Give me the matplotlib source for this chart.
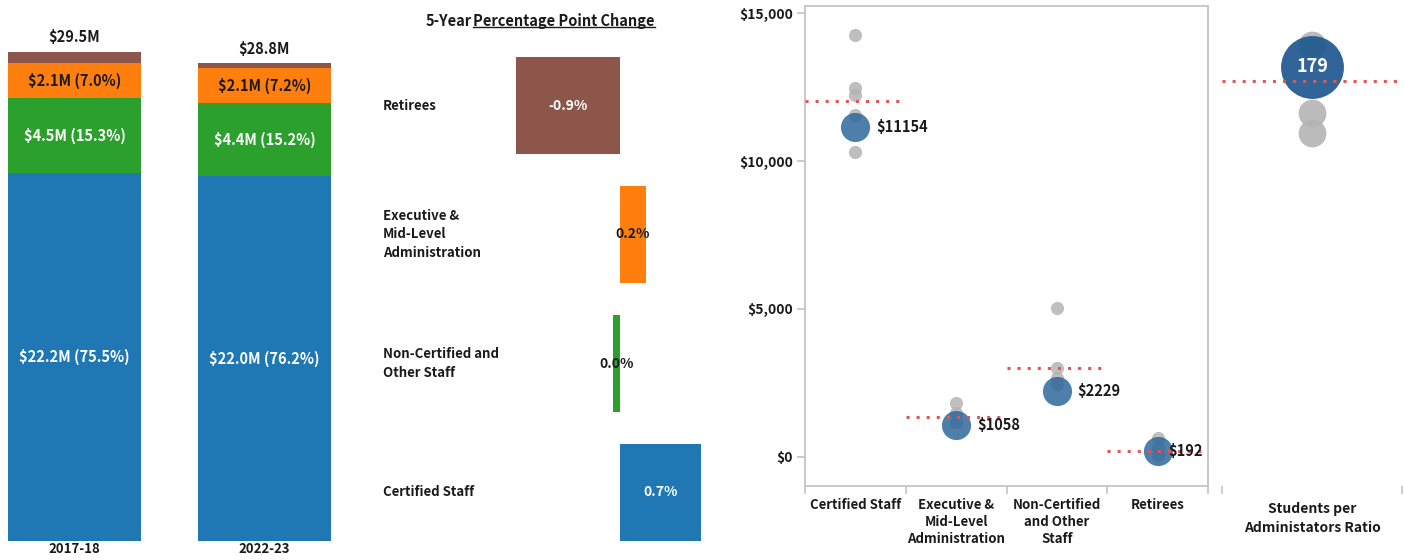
import matplotlib
matplotlib.use('Agg')
import matplotlib.pyplot as plt
import matplotlib.transforms as mtransforms
from matplotlib.lines import Line2D

FONT = ['Noto Sans CJK SC', 'DejaVu Sans']
plt.rcParams['font.family'] = FONT
plt.rcParams['font.weight'] = 'bold'

# ---------------- data ----------------
years = ['2017-18', '2022-23']
totals = [29.5, 28.8]
stack_names = ['Certified Staff', 'Non-Certified and Other Staff',
               'Executive & Mid-Level Administration', 'Retirees']
spend_2017 = [22.2, 4.5, 2.1, 0.7]
spend_2022 = [22.0, 4.4, 2.1, 0.3]
share_2017 = [75.5, 15.3, 7.0, 2.2]
share_2022 = [76.2, 15.2, 7.2, 1.4]

change_cats = ['Retirees', 'Executive &\nMid-Level\nAdministration',
               'Non-Certified and\nOther Staff', 'Certified Staff']
change_vals = [-0.9, 0.22, -0.06, 0.7]
change_labels = ['-0.9%', '0.2%', '0.0%', '0.7%']

scatter_cats = ['Certified Staff', 'Executive &\nMid-Level\nAdministration',
                'Non-Certified\nand Other\nStaff', 'Retirees']
peer_values = [[14270, 12480, 12240, 11560, 10310],
               [1816, 1479, 1175],
               [5022, 3012, 2653, 2460],
               [623, 338, 57]]
peer_avg = [12047, 1354, 3012, 203]
district_values = [11154, 1058, 2229, 192]
y_ticks = [0, 5000, 10000, 15000]

ratio_peers = [190, 156, 146]
ratio_avg = 172
ratio_district = 179
ratio_label = 'Students per\nAdministators Ratio'

# ---------------- styles ----------------
C_BLUE, C_GREEN, C_ORANGE, C_BROWN = '#1f77b4', '#2ca02c', '#ff7f0e', '#8c564b'
stack_colors = [C_BLUE, C_GREEN, C_ORANGE, C_BROWN]
stack_text = ['white', 'white', 'black', None]
change_colors = [C_BROWN, C_ORANGE, C_GREEN, C_BLUE]
change_text = ['white', 'black', 'black', 'white']
GRAY = '#b4b4b4'
SPINE = '#c4c4c4'
RED = '#e15759'
DOT_BLUE = '#2f679b'
FW = 'bold'
TXT = '#1a1a1a'

W, H = 1404, 560
fig = plt.figure(figsize=(W / 100, H / 100), dpi=100)


def px_axes(left, top, right, bottom):
    return fig.add_axes([left / W, 1 - bottom / H, (right - left) / W, (bottom - top) / H])


# ---------------- stacked bars ----------------
ax1 = px_axes(0, 30, 340, 541)
pxm = 16.58
ax1.set_ylim(0, 511 / pxm)
ax1.set_xlim(-74.5 / 190, (340 - 74.5) / 190)
for xi, (vals, shares, tot, yr) in enumerate(zip([spend_2017, spend_2022],
                                               [share_2017, share_2022], totals, years)):
    bottom = 0
    for v, s, c, tc in zip(vals, shares, stack_colors, stack_text):
        ax1.bar(xi, v, bottom=bottom, width=0.7, color=c, linewidth=0)
        if tc is not None:
            ax1.text(xi, bottom + v / 2, f'${v:.1f}M ({s:.1f}%)', ha='center', va='center',
                     color=tc if tc == 'white' else TXT, fontsize=10.5, fontweight=FW)
        bottom += v
    ax1.annotate(f'${tot:.1f}M', (xi, bottom), xytext=(0, 5), textcoords='offset points',
                 ha='center', va='bottom', fontsize=10.5, fontweight=FW, color=TXT)
    ax1.annotate(yr, (xi, 0), xytext=(0, -1), textcoords='offset points',
                 ha='center', va='top', fontsize=9.5, fontweight=FW, color=TXT)
ax1.axis('off')

# ---------------- percentage point change ----------------
ax2 = px_axes(380, 41, 720, 557)
ypos = [3, 2, 1, 0]
ax2.barh(ypos, change_vals, height=0.752, color=change_colors, linewidth=0)
ax2.set_xlim(-240 / 116, 100 / 116)
ax2.set_ylim(-0.5, 3.5)
tr = mtransforms.blended_transform_factory(ax2.transAxes, ax2.transData)
for y, v, lab, cat, tc in zip(ypos, change_vals, change_labels, change_cats, change_text):
    ax2.text(v / 2, y, lab, ha='center', va='center', color=tc if tc == 'white' else TXT,
             fontsize=10, fontweight=FW)
    ax2.text(3 / 340, y, cat, transform=tr, ha='left', va='center', fontsize=9.5,
             linespacing=1.45, fontweight=FW, color=TXT)
ax2.axis('off')

t1 = fig.text(426 / W, 1 - 21 / H, '5-Year', ha='left', va='center', fontsize=10.5,
              fontweight=FW, color=TXT)
t2 = fig.text(473 / W, 1 - 21 / H, 'Percentage Point Change', ha='left', va='center',
              fontsize=10.5, fontweight=FW, color=TXT)

# ---------------- scatter ----------------
ax3 = px_axes(805, 6, 1208, 486)
ax3.set_xlim(-0.5, 3.5)
ax3.set_ylim(-992, 15252)
for i, (peers, avg, dv) in enumerate(zip(peer_values, peer_avg, district_values)):
    ax3.scatter([i] * len(peers), peers, s=90, color=GRAY, alpha=0.85, linewidths=0, zorder=2)
    ax3.scatter([i], [dv], s=440, color=DOT_BLUE, alpha=0.85, linewidths=0, zorder=3)
    ax3.plot([i - 0.5, i + 0.45], [avg, avg], color=RED, lw=2.2,
             linestyle=(0, (1, 2.3)), zorder=4)
    off = 8 if i == 3 else 15
    ax3.annotate(f'${dv}', (i, dv), xytext=(off, 0), textcoords='offset points',
                 ha='left', va='center', fontsize=10.5, zorder=5, fontweight=FW, color=TXT)
ax3.set_yticks(y_ticks)
ax3.set_yticklabels([f'${v:,}' for v in y_ticks], fontsize=10, fontweight=FW, color=TXT)
ax3.set_xticks(range(4))
ax3.set_xticklabels(scatter_cats, fontsize=9.5, linespacing=1.3, fontweight=FW, color=TXT)
ax3.set_xticks([-0.5, 0.5, 1.5, 2.5, 3.5], minor=True)
ax3.tick_params(axis='x', which='major', length=0, pad=8.5)
ax3.tick_params(axis='x', which='minor', length=5.5, color=SPINE, width=1.2)
ax3.tick_params(axis='y', length=5.5, color=SPINE, width=1.2, pad=3)
for sp in ax3.spines.values():
    sp.set_color(SPINE)
    sp.set_linewidth(1.3)

# ---------------- ratio ----------------
ax4 = px_axes(1222, 6, 1402, 486)
ax4.set_xlim(-0.5, 0.5)
ax4.set_ylim(-30.5, 209.5)
ax4.scatter([0] * len(ratio_peers), ratio_peers, s=400, color=GRAY, alpha=0.9,
            linewidths=0, zorder=2)
ax4.scatter([0], [ratio_district], s=2050, color='#1f5890', alpha=0.92, linewidths=0, zorder=3)
ax4.plot([-0.5, 0.5], [ratio_avg, ratio_avg], color=RED, lw=2.2, linestyle=(0, (1, 2.3)),
         zorder=4)
ax4.text(0, ratio_district, str(ratio_district), ha='center', va='center', color='white',
         fontsize=13, zorder=5, fontweight=FW)
for sp in ax4.spines.values():
    sp.set_visible(False)
ax4.set_yticks([])
ax4.set_xticks([-0.5, 0.5])
ax4.set_xticklabels(['', ''])
ax4.tick_params(axis='x', length=5.5, color=SPINE, width=1.2, pad=2)
ax4.text(0.5, -0.033, ratio_label, transform=ax4.transAxes, ha='center', va='top',
         fontsize=10, linespacing=1.45, fontweight=FW, color=TXT)

# underline title part
fig.canvas.draw()
r = fig.canvas.get_renderer()
bb = t2.get_window_extent(renderer=r)
yline = bb.y0 + 2
fig.add_artist(Line2D([bb.x0 / W, bb.x1 / W], [yline / H, yline / H], color=TXT,
                      lw=1.0, transform=fig.transFigure))

fig.savefig('out.png', dpi=100)
